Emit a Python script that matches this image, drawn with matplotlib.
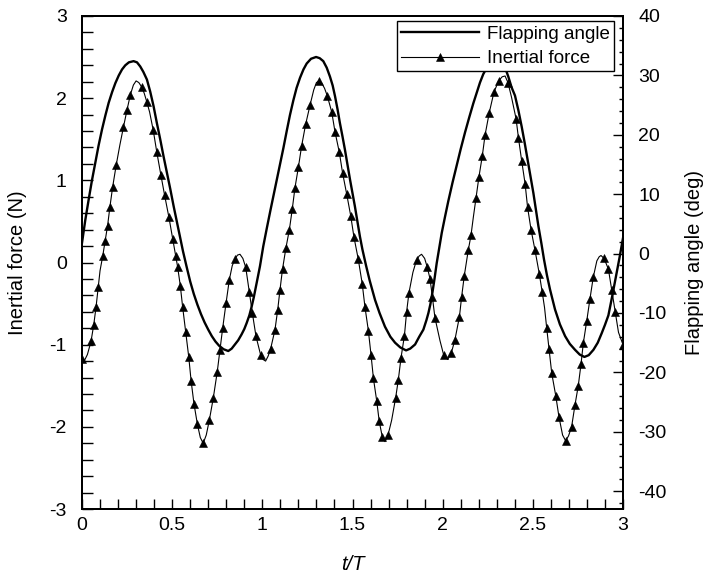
import matplotlib
matplotlib.use("Agg")
import matplotlib.pyplot as plt
from matplotlib.ticker import MultipleLocator, FixedLocator
from matplotlib.lines import Line2D

plt.rcParams['font.family'] = ['Liberation Sans', 'DejaVu Sans']

# ---- data ----
t_force = [0.000, 0.012, 0.030, 0.050, 0.065, 0.078, 0.090, 0.100, 0.115, 0.128,
           0.142, 0.155, 0.170, 0.190, 0.210, 0.230, 0.250, 0.268, 0.285, 0.300,
           0.315, 0.330, 0.345, 0.360, 0.375, 0.395, 0.415, 0.437, 0.458, 0.482,
           0.503, 0.520, 0.530, 0.545, 0.558, 0.575, 0.592, 0.605, 0.621, 0.640,
           0.656, 0.672, 0.689, 0.706, 0.728, 0.750, 0.765, 0.780, 0.799, 0.817,
           0.833, 0.848, 0.862, 0.876, 0.892, 0.908, 0.928, 0.945, 0.965, 0.990,
           1.004, 1.018, 1.032, 1.046, 1.070, 1.085, 1.098, 1.112, 1.131, 1.150,
           1.166, 1.181, 1.200, 1.218, 1.240, 1.265, 1.285, 1.300, 1.314, 1.330,
           1.345, 1.360, 1.385, 1.403, 1.427, 1.445, 1.468, 1.490, 1.508, 1.532,
           1.554, 1.569, 1.588, 1.603, 1.616, 1.634, 1.648, 1.665, 1.680, 1.697,
           1.717, 1.739, 1.754, 1.769, 1.788, 1.800, 1.813, 1.835, 1.855, 1.870,
           1.883, 1.900, 1.915, 1.930, 1.943, 1.957, 1.985, 2.005, 2.028, 2.048,
           2.068, 2.093, 2.105, 2.120, 2.142, 2.157, 2.170, 2.185, 2.201, 2.220,
           2.235, 2.258, 2.284, 2.310, 2.330, 2.346, 2.362, 2.382, 2.407, 2.420,
           2.438, 2.457, 2.471, 2.490, 2.512, 2.536, 2.552, 2.565, 2.577, 2.590,
           2.605, 2.627, 2.645, 2.665, 2.682, 2.698, 2.715, 2.734, 2.752, 2.767,
           2.780, 2.799, 2.817, 2.835, 2.855, 2.868, 2.878, 2.895, 2.919, 2.937,
           2.956, 2.975, 3.000]
force = [-1.17, -1.20, -1.12, -0.96, -0.76, -0.54, -0.30, -0.10, 0.08, 0.26,
         0.45, 0.68, 0.92, 1.19, 1.43, 1.65, 1.86, 2.04, 2.16, 2.21,
         2.19, 2.14, 2.06, 1.95, 1.83, 1.61, 1.34, 1.07, 0.82, 0.55,
         0.29, 0.08, -0.05, -0.28, -0.54, -0.85, -1.15, -1.44, -1.72, -1.97,
         -2.13, -2.20, -2.10, -1.92, -1.65, -1.33, -1.06, -0.80, -0.49, -0.21,
         -0.04, 0.04, 0.09, 0.10, 0.05, -0.06, -0.36, -0.62, -0.90, -1.12,
         -1.18, -1.20, -1.14, -1.05, -0.82, -0.58, -0.33, -0.08, 0.18, 0.40,
         0.65, 0.91, 1.16, 1.42, 1.68, 1.92, 2.10, 2.19, 2.21, 2.18,
         2.12, 2.03, 1.83, 1.59, 1.34, 1.09, 0.83, 0.57, 0.31, 0.04,
         -0.26, -0.54, -0.83, -1.13, -1.41, -1.68, -1.93, -2.12, -2.18, -2.10,
         -1.92, -1.65, -1.43, -1.16, -0.89, -0.60, -0.37, -0.12, 0.03, 0.08,
         0.10, 0.05, -0.06, -0.20, -0.42, -0.67, -0.95, -1.12, -1.18, -1.10,
         -0.94, -0.66, -0.42, -0.16, 0.15, 0.33, 0.55, 0.79, 1.04, 1.30,
         1.55, 1.82, 2.07, 2.21, 2.26, 2.27, 2.19, 2.01, 1.75, 1.52,
         1.24, 0.96, 0.67, 0.40, 0.15, -0.14, -0.36, -0.55, -0.80, -1.05,
         -1.35, -1.62, -1.88, -2.10, -2.17, -2.11, -2.00, -1.73, -1.50, -1.24,
         -0.98, -0.71, -0.44, -0.18, 0.02, 0.07, 0.085, 0.05, -0.08, -0.33,
         -0.60, -0.85, -1.00]

t_flap = [0.000, 0.018, 0.037, 0.055, 0.074, 0.092, 0.111, 0.130, 0.148, 0.167,
          0.185, 0.204, 0.222, 0.240, 0.260, 0.286, 0.305, 0.323, 0.340, 0.360,
          0.378, 0.397, 0.415, 0.434, 0.452, 0.471, 0.490, 0.508, 0.527, 0.545,
          0.560, 0.580, 0.600, 0.620, 0.640, 0.660, 0.680, 0.700, 0.720, 0.740,
          0.760, 0.785, 0.811, 0.830, 0.848, 0.866, 0.885, 0.900, 0.913, 0.928,
          0.941, 0.953, 0.965, 0.976, 0.987, 1.005, 1.025, 1.045, 1.065, 1.082,
          1.098, 1.117, 1.135, 1.153, 1.172, 1.190, 1.209, 1.228, 1.246, 1.270,
          1.298, 1.318, 1.338, 1.357, 1.375, 1.390, 1.403, 1.417, 1.430, 1.444,
          1.458, 1.472, 1.486, 1.500, 1.513, 1.527, 1.541, 1.555, 1.575, 1.595,
          1.625, 1.650, 1.680, 1.710, 1.736, 1.765, 1.797, 1.820, 1.847, 1.870,
          1.893, 1.910, 1.921, 1.932, 1.943, 1.955, 1.967, 1.981, 1.995, 2.013,
          2.031, 2.055, 2.078, 2.100, 2.124, 2.147, 2.170, 2.190, 2.207, 2.225,
          2.250, 2.275, 2.300, 2.320, 2.340, 2.364, 2.382, 2.401, 2.420, 2.438,
          2.455, 2.471, 2.487, 2.503, 2.517, 2.531, 2.547, 2.562, 2.578, 2.595,
          2.623, 2.650, 2.679, 2.705, 2.734, 2.760, 2.786, 2.810, 2.836, 2.860,
          2.882, 2.900, 2.919, 2.940, 2.960, 2.980, 3.000]
flap = [1.8, 5.6, 9.1, 12.3, 15.3, 18.2, 20.9, 23.3, 25.4, 27.2,
        28.7, 30.0, 31.0, 31.7, 32.2, 32.4, 32.2, 31.5, 30.6, 29.3,
        27.3, 24.8, 22.0, 19.2, 16.4, 13.6, 10.8, 8.0, 5.2, 2.5,
        0.4, -2.2, -4.7, -6.8, -8.6, -10.2, -11.6, -12.8, -13.9, -14.8,
        -15.5, -16.1, -16.4, -16.0, -15.3, -14.6, -13.6, -12.7, -11.7, -10.4,
        -8.9, -7.3, -5.5, -3.8, -2.1, 1.2, 4.3, 7.3, 10.2, 12.6,
        14.9, 17.8, 20.6, 23.3, 25.8, 27.9, 29.6, 31.0, 32.0, 32.8,
        33.1, 32.9, 32.4, 31.3, 29.8, 28.3, 26.5, 24.3, 22.0, 19.8,
        17.5, 15.0, 12.5, 10.2, 8.0, 5.5, 2.9, 0.7, -2.0, -4.5,
        -7.8, -10.0, -12.3, -14.0, -15.0, -15.8, -16.3, -16.0, -15.3, -14.0,
        -12.8, -11.2, -10.0, -8.5, -6.6, -4.2, -1.6, 1.0, 3.5, 6.2,
        8.8, 12.0, 14.9, 17.6, 20.4, 22.9, 25.3, 27.2, 28.8, 30.2,
        31.6, 32.5, 32.9, 32.7, 31.8, 29.8, 28.0, 26.6, 24.1, 21.4,
        18.6, 15.8, 13.0, 10.2, 7.4, 4.6, 1.8, -1.0, -3.6, -6.0,
        -9.4, -11.9, -13.9, -15.2, -16.2, -17.0, -17.4, -17.1, -16.2, -15.0,
        -13.4, -12.0, -10.4, -7.2, -4.0, -0.8, 2.6]

x_ticks = [0, 0.5, 1, 1.5, 2, 2.5, 3]
x_ticklabels = ['0', '0.5', '1', '1.5', '2', '2.5', '3']
yl_ticks = [-3, -2, -1, 0, 1, 2, 3]
yr_ticks = [-40, -30, -20, -10, 0, 10, 20, 30, 40]

W, H = 705, 578
fig = plt.figure(figsize=(W / 100, H / 100), dpi=100)
ax = fig.add_axes([82 / W, (H - 509) / H, 541 / W, 493 / H])
ax2 = ax.twinx()

ax.plot(t_force, force, color='black', lw=0.8, marker='^', ms=5.8, mew=0.4,
        markevery=0.029, label='Inertial force', zorder=3)
ax2.plot(t_flap, flap, color='black', lw=1.7, label='Flapping angle', zorder=3)

ax.set_xlim(0, 3)
ax.set_ylim(-3, 3)
ax2.set_ylim(-43, 40)

ax.set_xticks(x_ticks)
ax.set_xticklabels(x_ticklabels)
ax.xaxis.set_minor_locator(MultipleLocator(0.1))
ax.set_yticks(yl_ticks)
ax.set_yticklabels([str(v) for v in yl_ticks])
ax.yaxis.set_minor_locator(MultipleLocator(0.2))
ax2.set_yticks(yr_ticks)
ax2.set_yticklabels([str(v) for v in yr_ticks])
ax2.yaxis.set_minor_locator(FixedLocator([v for v in range(-42, 41, 2) if v % 10 != 0]))

tick_fs = 14
ax.tick_params(axis='x', which='both', direction='in', top=False, bottom=True,
               length=7, width=1.0, labelsize=tick_fs, pad=6, colors='black')
ax.tick_params(axis='y', which='both', direction='in', left=True, right=False,
               length=8, width=1.0, labelsize=tick_fs, pad=11)
ax2.tick_params(axis='y', which='major', direction='in', left=False, right=True,
                length=7, width=1.0, labelsize=tick_fs, pad=11)
ax2.tick_params(axis='y', which='minor', direction='in', left=False, right=True,
                length=3, width=1.0)

for a in (ax, ax2):
    for s in a.spines.values():
        s.set_linewidth(1.4)
        s.set_color('black')

ax.set_xlabel('t/T', fontsize=14.5, fontstyle='italic')
ax.xaxis.set_label_coords(0.5, (509 - 565) / 493)
ax.xaxis.label.set_va('center')
ax.set_ylabel('Inertial force (N)', fontsize=14.5)
ax.yaxis.set_label_coords((18 - 82) / 541, 0.5)
ax.yaxis.label.set_va('center')
ax2.set_ylabel('Flapping angle (deg)', fontsize=14.5, rotation=90)
ax2.yaxis.set_label_coords((694 - 82) / 541, 0.5)
ax2.yaxis.label.set_va('center')

h_flap = Line2D([], [], color='black', lw=1.7)
h_force = Line2D([], [], color='black', lw=0.8, marker='^', ms=5.8, mew=0.4)
leg = ax2.legend([h_flap, h_force], ['Flapping angle', 'Inertial force'],
                 loc='upper right',
                 bbox_to_anchor=((614.3 - 82) / 541, (509 - 21.3) / 493),
                 borderaxespad=0, fontsize=13.5, frameon=True, fancybox=False,
                 framealpha=1, edgecolor='black', borderpad=0.22,
                 labelspacing=0.4, handlelength=4.16, handletextpad=0.45,
                 numpoints=1)
leg.get_frame().set_linewidth(1.0)
leg.set_zorder(10)

fig.savefig('out.png', dpi=100)
